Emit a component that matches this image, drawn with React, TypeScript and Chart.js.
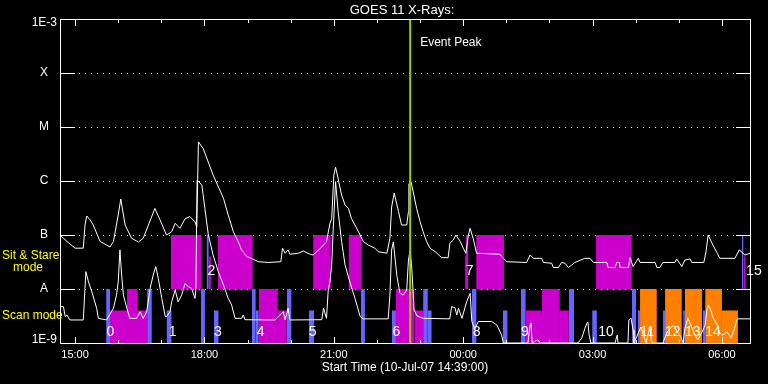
import React, { useEffect, useRef } from 'react';
import { Chart, registerables } from 'chart.js';

Chart.register(...registerables);

// ---------- texts ----------
const TITLE = 'GOES 11 X-Rays:';
const X_TITLE = 'Start Time (10-Jul-07 14:39:00)';
const EVENT_LABEL = 'Event Peak';

// ---------- axes (x in hours of 10-Jul, continuing past midnight) ----------
const X_MIN = 14.65;
const X_MAX = 30.65;
const hourTicks = [15, 16, 17, 18, 19, 20, 21, 22, 23, 24, 25, 26, 27, 28, 29, 30];
const majorHours = [15, 18, 21, 24, 27, 30];
const majorLabels = ['15:00', '18:00', '21:00', '00:00', '03:00', '06:00'];
const yLevels = [1e-9, 1e-8, 1e-7, 1e-6, 1e-5, 1e-4, 1e-3];
const yLevelLabels = ['1E-9', 'A', 'B', 'C', 'M', 'X', '1E-3'];
const eventPeakHour = 22.77;

// ---------- GOES long channel (1-8 A), [hour, W/m2] ----------
const longChannel: [number, number][] = [
  [14.65, 1.0e-7], [14.81, 7.6e-8], [15.0, 5.7e-8], [15.19, 5.7e-8], [15.23, 1.53e-7], [15.27, 2.25e-7],
  [15.35, 1.9e-7], [15.42, 1.53e-7], [15.58, 7.6e-8], [15.81, 6.0e-8], [15.89, 7.6e-8], [16.0, 2.35e-7],
  [16.06, 4.64e-7], [16.16, 1.53e-7], [16.31, 8.7e-8], [16.47, 7.4e-8], [16.58, 8.7e-8], [16.7, 1.53e-7],
  [16.85, 3.1e-7], [16.97, 1.9e-7], [17.12, 1.0e-7], [17.24, 1.15e-7], [17.32, 1.65e-7], [17.43, 1.33e-7],
  [17.55, 2.0e-7], [17.66, 2.2e-7], [17.78, 1.76e-7], [17.82, 1.42e-7], [17.86, 5.3e-6], [17.97, 4.0e-6],
  [18.2, 1.29e-6], [18.44, 4.8e-7], [18.55, 2.35e-7], [18.67, 1.15e-7], [18.78, 7.6e-8], [18.86, 5.3e-8],
  [18.98, 4.0e-8], [19.17, 3.44e-8], [19.25, 3.2e-8], [19.48, 3.1e-8], [19.77, 3.2e-8], [19.81, 5.7e-8],
  [19.87, 4.6e-8], [19.94, 5.3e-8], [19.98, 4.4e-8], [20.18, 4.6e-8], [20.29, 5.05e-8], [20.45, 4.4e-8],
  [20.52, 4.26e-8], [20.72, 6.0e-8], [20.83, 7.6e-8], [20.91, 1.65e-7], [20.95, 2.0e-7], [21.0, 1.29e-6],
  [21.04, 1.8e-6], [21.1, 1.1e-6], [21.18, 5.5e-7], [21.26, 3.6e-7], [21.34, 3.1e-7], [21.41, 2.0e-7],
  [21.49, 1.53e-7], [21.61, 1.0e-7], [21.68, 7.6e-8], [21.8, 6.5e-8], [21.95, 5.7e-8], [22.03, 4.9e-8],
  [22.23, 4.6e-8], [22.3, 8.7e-8], [22.34, 3.3e-7], [22.4, 6.0e-7], [22.5, 2.7e-7], [22.57, 1.53e-7],
  [22.69, 1.53e-7], [22.73, 2.7e-7], [22.74, 8.9e-7], [22.79, 9.7e-7], [22.84, 6.3e-7], [22.92, 3.1e-7],
  [23.0, 1.76e-7], [23.07, 1.15e-7], [23.15, 7.6e-8], [23.23, 5.7e-8], [23.35, 4.9e-8], [23.5, 3.8e-8],
  [23.65, 3.8e-8], [23.69, 7.0e-8], [23.77, 8.1e-8], [23.83, 1.0e-7], [23.93, 7.6e-8], [24.0, 5.7e-8],
  [24.06, 4.6e-8], [24.12, 1.0e-7], [24.16, 1.33e-7], [24.23, 8.7e-8], [24.31, 4.6e-8], [24.85, 4.4e-8],
  [24.93, 3.7e-8], [25.01, 3.2e-8], [25.47, 3.1e-8], [25.55, 4.26e-8], [25.63, 3.7e-8], [25.82, 3.7e-8],
  [25.86, 3.1e-8], [26.05, 3.0e-8], [26.09, 2.5e-8], [26.21, 2.5e-8], [26.28, 3.1e-8], [26.36, 3.0e-8],
  [26.44, 2.5e-8], [26.52, 2.8e-8], [26.59, 3.1e-8], [26.82, 3.7e-8], [26.94, 3.7e-8], [27.02, 3.1e-8],
  [27.33, 3.1e-8], [27.36, 2.5e-8], [27.52, 2.5e-8], [27.56, 3.1e-8], [27.62, 3.1e-8], [27.64, 2.5e-8],
  [27.83, 2.5e-8], [27.87, 3.8e-8], [27.94, 2.6e-8], [28.06, 3.7e-8], [28.1, 3.1e-8], [28.45, 3.1e-8],
  [28.49, 2.5e-8], [28.56, 2.5e-8], [28.63, 3.1e-8], [28.91, 3.1e-8], [28.95, 3.6e-8], [29.07, 2.6e-8],
  [29.14, 3.44e-8], [29.26, 3.6e-8], [29.3, 3.1e-8], [29.58, 3.1e-8], [29.63, 4.9e-8], [29.68, 1.0e-7],
  [29.79, 6.5e-8], [29.89, 4.6e-8], [29.95, 3.7e-8], [30.3, 3.7e-8], [30.4, 5.3e-8], [30.53, 4.26e-8],
  [30.65, 4.6e-8],
];

// ---------- GOES short channel (0.5-4 A), [hour, W/m2] ----------
const shortChannel: [number, number][] = [
  [14.65, 4.7e-9], [14.73, 4.7e-9], [14.77, 3.1e-9], [14.81, 3.3e-9], [14.88, 2.67e-9], [15.19, 2.67e-9],
  [15.25, 2.1e-8], [15.31, 1.36e-8], [15.39, 8.8e-9], [15.5, 4.4e-9], [15.54, 2.86e-9], [15.73, 2.67e-9],
  [15.89, 4.4e-9], [15.96, 7.7e-9], [16.0, 1.36e-8], [16.04, 5.3e-8], [16.08, 1.8e-8], [16.12, 7.7e-9],
  [16.2, 4.4e-9], [16.27, 2.86e-9], [16.43, 2.86e-9], [16.51, 3.8e-9], [16.58, 2.86e-9], [16.66, 3.8e-9],
  [16.74, 1.03e-8], [16.81, 1.8e-8], [16.87, 2.6e-8], [16.93, 1.57e-8], [17.01, 6.7e-9], [17.09, 3.1e-9],
  [17.12, 3.1e-9], [17.2, 3.8e-9], [17.24, 5.8e-9], [17.32, 9.6e-9], [17.39, 5.8e-9], [17.47, 7.7e-9],
  [17.55, 1.27e-8], [17.63, 1.1e-8], [17.7, 1.03e-8], [17.78, 6.7e-9], [17.8, 9.6e-9], [17.83, 1.04e-6],
  [17.94, 8.4e-7], [18.01, 3.1e-7], [18.09, 1.0e-7], [18.2, 4.26e-8], [18.32, 2.1e-8], [18.44, 1.19e-8],
  [18.55, 6.7e-9], [18.63, 5.05e-9], [18.71, 2.86e-9], [18.86, 2.86e-9], [18.9, 3.3e-9], [18.94, 2.7e-9],
  [19.64, 2.67e-9], [19.83, 3.8e-9], [19.87, 2.67e-9], [19.94, 4.4e-9], [19.98, 2.67e-9], [20.72, 2.7e-9],
  [20.76, 4.4e-9], [20.83, 2.86e-9], [20.87, 9.6e-9], [20.91, 1.36e-8], [20.95, 2.8e-8], [20.99, 1.53e-7],
  [21.04, 9.7e-7], [21.1, 2.7e-7], [21.18, 7.6e-8], [21.26, 2.8e-8], [21.37, 1.36e-8], [21.49, 6.7e-9],
  [21.61, 3.1e-9], [21.68, 2.8e-9], [22.26, 2.8e-9], [22.3, 7.7e-9], [22.34, 5.3e-8], [22.38, 7.4e-8],
  [22.46, 1.8e-8], [22.53, 8.4e-9], [22.61, 7.7e-9], [22.69, 9.6e-9], [22.73, 3.44e-8], [22.77, 5.3e-8],
  [22.81, 2.25e-8], [22.86, 4.1e-9], [22.93, 3.16e-9], [23.07, 2.86e-9], [23.69, 2.8e-9], [23.73, 4.7e-9],
  [23.81, 4.5e-9], [23.85, 3.3e-9], [23.89, 4.4e-9], [23.97, 2.86e-9], [24.08, 5.8e-9], [24.16, 8.3e-9],
  [24.2, 2.5e-9], [24.27, 1.85e-9], [24.35, 2.5e-9], [24.66, 2.5e-9], [24.78, 2.15e-9], [24.89, 1.4e-9],
  [24.93, 1.0e-9], [25.5, 1.0e-9], [25.55, 2.15e-9], [25.57, 2.35e-9], [25.6, 1.0e-9], [25.73, 1.15e-9],
  [25.78, 1.0e-9], [26.66, 1.0e-9], [26.75, 1.24e-9], [26.82, 1.85e-9], [26.87, 2.35e-9], [26.89, 2.45e-9],
  [26.92, 1.4e-9], [26.96, 1.0e-9], [27.52, 1.0e-9], [27.57, 1.4e-9], [27.59, 1.0e-9], [27.82, 1.0e-9],
  [27.84, 2.67e-9], [27.89, 2.9e-9], [27.94, 1.74e-9], [27.96, 1.0e-9], [28.12, 1.98e-9], [28.24, 1.0e-9],
  [28.33, 1.98e-9], [28.37, 1.0e-9], [28.63, 1.0e-9], [28.73, 1.6e-9], [28.8, 1.85e-9], [28.87, 2.15e-9],
  [28.96, 1.6e-9], [29.03, 1.4e-9], [29.1, 1.0e-9], [29.14, 1.85e-9], [29.21, 2.9e-9], [29.31, 1.85e-9],
  [29.38, 1.4e-9], [29.44, 1.15e-9], [29.54, 1.6e-9], [29.61, 2.15e-9], [29.65, 4.1e-9], [29.68, 5.05e-9],
  [29.72, 4.45e-9], [29.79, 3.0e-9], [29.89, 2.15e-9], [29.95, 1.53e-9], [30.02, 1.4e-9], [30.12, 1.6e-9],
  [30.21, 1.24e-9], [30.28, 1.74e-9], [30.35, 2.8e-9], [30.65, 2.8e-9],
];

// ---------- observation blocks: [start hour, end hour, top flux] ----------
// Sit & Stare band (from the A level up)
const STARE_BASE = 1e-8;
const stareMagenta: [number, number, number][] = [
  [17.22, 17.92, 1e-7], [18.1, 18.15, 4e-8], [18.31, 19.12, 1e-7], [20.52, 20.93, 1e-7],
  [21.34, 21.63, 1e-7], [24.06, 24.12, 1e-7], [24.3, 24.95, 1e-7], [27.08, 27.91, 1e-7], [30.5, 30.55, 4e-8],
];
const stareBlue: [number, number, number][] = [
  [18.05, 18.1, 1e-7], [24.04, 24.06, 4e-8], [30.46, 30.5, 1e-7],
];
// Scan band (from 1E-9 up)
const SCAN_BASE = 1e-9;
const scanBlue: [number, number, number][] = [
  [15.72, 15.81, 1e-8], [16.67, 16.78, 1e-8], [17.12, 17.24, 4e-9], [17.92, 18.01, 1e-8], [18.22, 18.33, 4e-9],
  [19.1, 19.19, 1e-8], [19.19, 19.26, 4e-9], [19.91, 20.02, 1e-8], [20.42, 20.54, 4e-9], [21.63, 21.72, 1e-8],
  [22.34, 22.44, 4e-9], [23.07, 23.18, 1e-8], [23.18, 23.27, 4e-9], [24.2, 24.31, 1e-8], [24.92, 25.03, 4e-9],
  [25.34, 25.45, 1e-8], [26.45, 26.57, 1e-8], [26.99, 27.1, 4e-9], [27.91, 28.01, 1e-8], [28.05, 28.1, 4e-9],
  [28.63, 28.68, 4e-9], [29.1, 29.14, 4e-9], [29.56, 29.61, 4e-9],
];
const scanMagenta: [number, number, number][] = [
  [15.81, 16.67, 4e-9], [16.2, 16.45, 1e-8], [19.26, 19.7, 1e-8], [19.7, 19.91, 4e-9], [22.44, 22.87, 1e-8],
  [22.87, 23.07, 4e-9], [25.45, 25.82, 4e-9], [25.82, 26.24, 1e-8], [26.24, 26.45, 4e-9],
];
const scanOrange: [number, number, number][] = [
  [28.1, 28.49, 1e-8], [28.68, 29.07, 1e-8], [29.14, 29.54, 1e-8], [29.61, 30.0, 1e-8], [30.0, 30.37, 4e-9],
];

// observation numbers
const obsLabels = ['0', '1', '2', '3', '4', '5', '6', '7', '8', '9', '10', '11', '12', '13', '14', '15'];
const obsLabelHours = [15.73, 17.17, 18.07, 18.22, 19.21, 20.42, 22.36, 24.06, 24.22, 25.34, 27.13, 28.1, 28.68, 29.14, 29.61, 30.56];
const obsLabelFlux = [1.6e-9, 1.6e-9, 2.1e-8, 1.6e-9, 1.6e-9, 1.6e-9, 1.6e-9, 2.1e-8, 1.6e-9, 1.6e-9, 1.6e-9, 1.6e-9, 1.6e-9, 1.6e-9, 1.6e-9, 2.1e-8];

const COLORS = {
  magenta: 'rgb(204,0,204)',
  blue: 'rgb(102,102,255)',
  orange: 'rgb(255,128,0)',
  event: 'rgb(153,204,0)',
  yellow: '#ffff00',
  white: '#ffffff',
};

const FONT = '"Liberation Sans", Arial, sans-serif';

function rectDataset(r: [number, number, number], base: number, color: string) {
  const [s, e, top] = r;
  return {
    type: 'line' as const,
    data: [
      { x: s, y: base },
      { x: s, y: top },
      { x: e, y: top },
      { x: e, y: base },
    ],
    fill: { value: base },
    backgroundColor: color,
    borderColor: 'rgba(0,0,0,0)',
    borderWidth: 0,
    pointRadius: 0,
    order: 10,
  };
}

const decorPlugin = {
  id: 'goesDecor',
  beforeDatasetsDraw(chart: any) {
    const { ctx, chartArea: a, scales } = chart;
    const y = scales.y;
    ctx.save();
    ctx.fillStyle = COLORS.white;
    for (let i = 1; i < yLevels.length - 1; i++) {
      const py = Math.round(y.getPixelForValue(yLevels[i]));
      for (let px = a.left + 19; px <= a.right - 17; px += 6) ctx.fillRect(px, py, 1, 1);
    }
    ctx.restore();
  },
  afterDatasetsDraw(chart: any) {
    const { ctx, chartArea: a, scales } = chart;
    const { x, y } = scales;
    const L = Math.round(a.left), R = Math.round(a.right), T = Math.round(a.top), B = Math.round(a.bottom);
    ctx.save();
    ctx.fillStyle = COLORS.white;
    // frame
    ctx.fillRect(L, T, R - L + 1, 1);
    ctx.fillRect(L, B, R - L + 1, 1);
    ctx.fillRect(L, T, 1, B - T + 1);
    ctx.fillRect(R, T, 1, B - T + 1);
    // y level ticks
    for (let i = 1; i < yLevels.length - 1; i++) {
      const py = Math.round(y.getPixelForValue(yLevels[i]));
      ctx.fillRect(L, py, 15, 1);
      ctx.fillRect(R - 14, py, 15, 1);
    }
    // hour ticks
    hourTicks.forEach((h) => {
      const px = Math.round(x.getPixelForValue(h));
      const len = majorHours.includes(h) ? 6 : 3;
      ctx.fillRect(px, T, 1, len + 1);
      ctx.fillRect(px, B - len, 1, len + 1);
    });
    // observation numbers
    ctx.font = '14px ' + FONT;
    ctx.textAlign = 'left';
    ctx.textBaseline = 'middle';
    obsLabels.forEach((t, i) => {
      ctx.fillText(t, x.getPixelForValue(obsLabelHours[i]), y.getPixelForValue(obsLabelFlux[i]));
    });
    ctx.restore();
  },
  afterDraw(chart: any) {
    const { ctx, chartArea: a, scales } = chart;
    const { x, y } = scales;
    ctx.save();
    ctx.fillStyle = COLORS.white;
    ctx.textBaseline = 'middle';
    // title
    ctx.font = '13px ' + FONT;
    ctx.textAlign = 'center';
    ctx.fillText(TITLE, (a.left + a.right) / 2 - 3, 10);
    // x title
    ctx.font = '12px ' + FONT;
    ctx.fillText(X_TITLE, (a.left + a.right) / 2, a.bottom + 25);
    // x tick labels
    ctx.font = '11px ' + FONT;
    majorHours.forEach((h, i) => {
      ctx.fillText(majorLabels[i], x.getPixelForValue(h), a.bottom + 12);
    });
    // y labels
    ctx.font = '12px ' + FONT;
    yLevels.forEach((v, i) => {
      const py = y.getPixelForValue(v);
      if (i === 0) {
        ctx.textAlign = 'right';
        ctx.fillText(yLevelLabels[i], a.left - 3, py - 3);
      } else if (i === yLevels.length - 1) {
        ctx.textAlign = 'right';
        ctx.fillText(yLevelLabels[i], a.left - 3, py + 4);
      } else {
        ctx.textAlign = 'center';
        ctx.fillText(yLevelLabels[i], a.left - 16, py);
      }
    });
    // event peak label
    ctx.textAlign = 'left';
    ctx.fillText(EVENT_LABEL, x.getPixelForValue(eventPeakHour) + 10, a.top + 24);
    // band labels
    ctx.fillStyle = COLORS.yellow;
    ctx.font = '12px ' + FONT;
    ctx.textAlign = 'left';
    const stareMid = y.getPixelForValue(3.2e-8);
    ctx.fillText('Sit & Stare', 2, stareMid - 6);
    ctx.fillText('mode', 13, stareMid + 6);
    ctx.fillText('Scan mode', 2, y.getPixelForValue(3.2e-9));
    ctx.restore();
  },
};

export default function App() {
  const canvasRef = useRef<HTMLCanvasElement | null>(null);

  useEffect(() => {
    const canvas = canvasRef.current;
    if (!canvas) return;

    const datasets: any[] = [
      {
        type: 'line',
        label: 'Event Peak',
        data: [
          { x: eventPeakHour, y: 1e-9 },
          { x: eventPeakHour, y: 1e-3 },
        ],
        borderColor: COLORS.event,
        borderWidth: 2,
        pointRadius: 0,
        fill: false,
        order: 0,
      },
      {
        type: 'line',
        label: 'Long',
        data: longChannel.map(([h, v]) => ({ x: h, y: v })),
        borderColor: COLORS.white,
        borderWidth: 1,
        pointRadius: 0,
        fill: false,
        tension: 0,
        order: 1,
      },
      {
        type: 'line',
        label: 'Short',
        data: shortChannel.map(([h, v]) => ({ x: h, y: v })),
        borderColor: COLORS.white,
        borderWidth: 1,
        pointRadius: 0,
        fill: false,
        tension: 0,
        order: 1,
      },
      ...stareMagenta.map((r) => rectDataset(r, STARE_BASE, COLORS.magenta)),
      ...stareBlue.map((r) => rectDataset(r, STARE_BASE, COLORS.blue)),
      ...scanMagenta.map((r) => rectDataset(r, SCAN_BASE, COLORS.magenta)),
      ...scanBlue.map((r) => rectDataset(r, SCAN_BASE, COLORS.blue)),
      ...scanOrange.map((r) => rectDataset(r, SCAN_BASE, COLORS.orange)),
    ];

    const chart = new Chart(canvas, {
      type: 'line',
      data: { datasets },
      options: {
        animation: false,
        responsive: false,
        devicePixelRatio: 1,
        layout: { padding: { left: 60, right: 18, top: 19, bottom: 41 } },
        scales: {
          x: { type: 'linear', min: X_MIN, max: X_MAX, display: false },
          y: { type: 'logarithmic', min: 1e-9, max: 1e-3, display: false },
        },
        plugins: {
          legend: { display: false },
          tooltip: { enabled: false },
          title: { display: false },
        },
        elements: { point: { radius: 0 } },
      },
      plugins: [decorPlugin],
    });

    return () => chart.destroy();
  }, []);

  return (
    <div
      style={{
        position: 'fixed',
        left: 0,
        top: 0,
        width: 768,
        height: 384,
        background: '#000',
      }}
    >
      <canvas ref={canvasRef} width={768} height={384} style={{ display: 'block' }} />
    </div>
  );
}
